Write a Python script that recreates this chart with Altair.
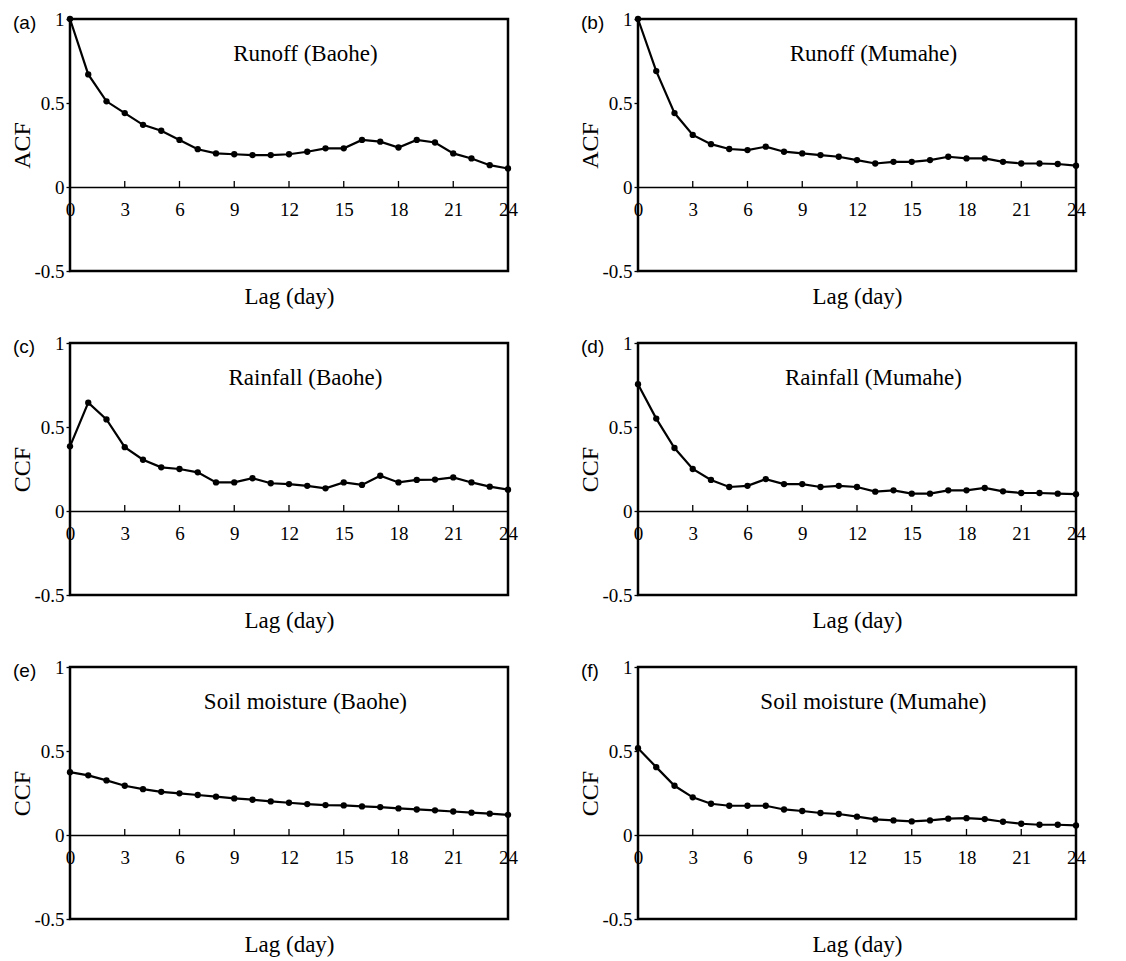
import altair as alt
import pandas as pd

LAGS = list(range(25))
X_TICKS = [0, 3, 6, 9, 12, 15, 18, 21, 24]
Y_TICKS = [-0.5, 0, 0.5, 1]

runoff_baohe = [1.0, 0.67, 0.51, 0.44, 0.37, 0.335, 0.28, 0.225, 0.20, 0.195, 0.19, 0.19, 0.195,
                0.21, 0.23, 0.23, 0.28, 0.27, 0.235, 0.28, 0.265, 0.20, 0.17, 0.13, 0.11]
runoff_mumahe = [1.0, 0.69, 0.44, 0.31, 0.255, 0.226, 0.22, 0.24, 0.21, 0.20, 0.19, 0.18, 0.16,
                 0.14, 0.15, 0.15, 0.16, 0.18, 0.17, 0.17, 0.15, 0.14, 0.14, 0.137, 0.127]
rain_baohe = [0.385, 0.645, 0.545, 0.38, 0.305, 0.26, 0.25, 0.23, 0.17, 0.17, 0.195, 0.165, 0.16,
              0.15, 0.135, 0.17, 0.155, 0.21, 0.17, 0.185, 0.187, 0.20, 0.17, 0.145, 0.127]
rain_mumahe = [0.755, 0.55, 0.375, 0.25, 0.185, 0.143, 0.15, 0.19, 0.16, 0.16, 0.143, 0.15, 0.143,
               0.115, 0.123, 0.103, 0.103, 0.123, 0.123, 0.137, 0.117, 0.107, 0.107, 0.103, 0.10]
soil_baohe = [0.374, 0.355, 0.325, 0.293, 0.273, 0.257, 0.248, 0.238, 0.228, 0.218, 0.21, 0.20, 0.192,
              0.184, 0.178, 0.176, 0.17, 0.166, 0.158, 0.152, 0.147, 0.14, 0.133, 0.127, 0.12]
soil_mumahe = [0.517, 0.404, 0.293, 0.224, 0.186, 0.174, 0.174, 0.174, 0.152, 0.143, 0.131, 0.125, 0.109,
               0.093, 0.087, 0.081, 0.087, 0.097, 0.10, 0.095, 0.079, 0.067, 0.061, 0.061, 0.057]

LETTERS = ["(a)", "(b)", "(c)", "(d)", "(e)", "(f)"]
TITLES = ["Runoff (Baohe)", "Runoff (Mumahe)", "Rainfall (Baohe)", "Rainfall (Mumahe)",
          "Soil moisture (Baohe)", "Soil moisture (Mumahe)"]
YLABELS = ["ACF", "ACF", "CCF", "CCF", "CCF", "CCF"]
SERIES = [runoff_baohe, runoff_mumahe, rain_baohe, rain_mumahe, soil_baohe, soil_mumahe]

W, H = 438, 252
SERIF = "Liberation Serif"
SANS = "Liberation Sans"


def panel(i):
    df = pd.DataFrame({"lag": LAGS, "value": SERIES[i]})
    one = pd.DataFrame({"title": [TITLES[i]], "letter": [LETTERS[i]]})
    xscale = alt.Scale(domain=[0, 24], nice=False, zero=False)
    yscale = alt.Scale(domain=[-0.5, 1], nice=False)
    xaxis = alt.Axis(values=X_TICKS, orient="bottom", offset=-H / 3, ticks=False, tickSize=0,
                     labelPadding=13, labelFlush=False, labelOverlap=False, grid=False,
                     domainColor="black", domainWidth=1.3, labelFont=SERIF, labelFontSize=19,
                     labelColor="black", title="Lag (day)", titleFont=SERIF, titleFontSize=23,
                     titleFontWeight="normal", titleColor="black", titleY=116,
                     titleBaseline="alphabetic")
    yaxis = alt.Axis(values=Y_TICKS, labelExpr="toString(datum.value)", grid=False, domain=False,
                     tickSize=4, tickColor="black", tickWidth=1.3, labelPadding=2,
                     labelFont=SERIF, labelFontSize=19, labelColor="black", title=YLABELS[i],
                     titleFont=SERIF, titleFontSize=24, titleFontWeight="normal", titleColor="black",
                     titleX=-41, titleBaseline="alphabetic")
    base = alt.Chart(df)
    line = base.mark_line(color="black", strokeWidth=2.2).encode(
        x=alt.X("lag:Q", scale=xscale, axis=xaxis),
        y=alt.Y("value:Q", scale=yscale, axis=yaxis),
    )
    pts = base.mark_circle(color="black", size=40, opacity=1).encode(x="lag:Q", y="value:Q")
    tick_df = pd.DataFrame({"t": X_TICKS[1:-1]})
    ticks = alt.Chart(tick_df).mark_rule(color="black", strokeWidth=1.3).encode(
        x="t:Q", y=alt.datum(0), y2=alt.datum(0.036)
    )
    title = alt.Chart(one).mark_text(font=SERIF, fontSize=23, color="black",
                                     fontWeight="normal").encode(
        x=alt.datum(12.9), y=alt.datum(0.79), text="title:N"
    )
    letter = alt.Chart(one).mark_text(font=SANS, fontSize=19, color="black", align="left",
                                      baseline="middle", fontWeight="normal").encode(
        x=alt.value(-57), y=alt.value(4), text="letter:N"
    )
    return alt.layer(ticks, line, pts, title, letter).properties(width=W, height=H)


rows = []
for r in range(3):
    rows.append(alt.hconcat(panel(2 * r), panel(2 * r + 1), spacing=57))

chart = alt.vconcat(*rows, spacing=22).properties(
    padding={"left": 0, "top": 0, "right": 0, "bottom": 8},
    background="white",
).configure_view(stroke="black", strokeWidth=2.5)

chart.save("out.html", embed_options={"renderer": "svg", "actions": False})
